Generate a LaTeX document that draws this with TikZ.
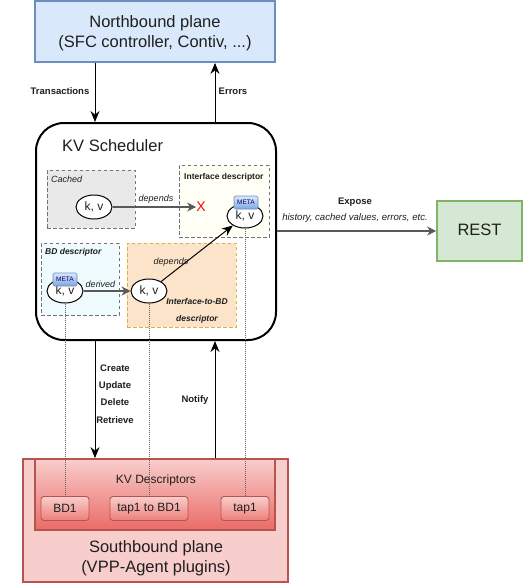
\documentclass[tikz,border=0pt]{standalone}
\usepackage{fontspec}
\setmainfont{Liberation Sans}
\usetikzlibrary{arrows.meta,calc,shapes.geometric}
\definecolor{redS}{HTML}{B85450}
\definecolor{redF}{HTML}{F8CECC}
\definecolor{redB}{HTML}{EA6B66}
\definecolor{blueS}{HTML}{6C8EBF}
\definecolor{blueF}{HTML}{DAE8FC}
\definecolor{blueB}{HTML}{7EA6E0}
\definecolor{greenS}{HTML}{82B366}
\definecolor{greenF}{HTML}{D5E8D4}
\definecolor{orangeF}{HTML}{FCE4CA}
\definecolor{orangeS}{HTML}{E3B040}
\definecolor{greyF}{HTML}{E9E9E9}
\definecolor{ivoryF}{HTML}{FFFFF6}
\definecolor{iceF}{HTML}{F0FBFF}
\newcommand{\low}[1]{\raisebox{-1.5pt}{#1}}
\tikzset{
 x=1pt,y=-1pt,
 every node/.style={font=\fontsize{16.5}{20}\selectfont,text=black!88,inner sep=0pt,align=center},
 plane/.style={draw=#1,line width=1.8pt},
 scope box/.style={draw=#1,dash pattern=on 3.5pt off 2.5pt,line width=.9pt},
 kv/.style={draw=black,fill=white,ellipse,line width=1pt,minimum width=36pt,minimum height=24pt,font=\fontsize{12}{14}\selectfont},
 meta/.style={draw=blueS,rounded corners=1.5pt,top color=blueF,bottom color=blueB,line width=.7pt,
   minimum width=24pt,minimum height=13pt,text=black!60!blue,font=\fontsize{6.5}{7}\selectfont},
 desc/.style={draw=redS,rounded corners=3pt,line width=.9pt,top color=redF,bottom color=redB!80!redF,minimum height=24pt,font=\fontsize{12}{14}\selectfont},
 flow/.style={-{Stealth[length=11pt,width=9pt]},line width=1pt,black},
 soft/.style={-{Stealth[length=9pt,width=9pt]},line width=1.2pt,black!65},
 dots/.style={dash pattern=on .7pt off 1.3pt,line width=.6pt,black!60},
 lab/.style={font=\fontsize{9.5}{17}\selectfont\bfseries},
 small/.style={font=\fontsize{9}{10}\selectfont\itshape},
 smallb/.style={font=\fontsize{8.5}{10}\selectfont\itshape\bfseries},
}
\begin{document}
\begin{tikzpicture}
\useasboundingbox[fill=white] (0,0) rectangle (524,584);
% planes
\node[plane=blueS,fill=blueF,minimum width=240pt,minimum height=61pt] (nb) at (155,31.5) {};
\node (nbt) at (155,33) {Northbound plane\\(SFC controller, Contiv, ...)};
\node[draw=black,line width=2pt,rounded corners=28pt,fill=white,minimum width=240pt,minimum height=217pt] (kvs) at (156,231.5) {};
\node[anchor=west] (kvt) at (62,146) {KV Scheduler};
\node[plane=redS,fill=redF,minimum width=265pt,minimum height=123pt] (sb) at (155.5,520.5) {};
\node (sbt) at (156,558.5) {Southbound plane\\(VPP-Agent plugins)};
\node[draw=redS,line width=1.8pt,top color=redF,bottom color=redB,minimum width=240pt,minimum height=71pt] (kvd) at (155,494.5) {};
\node[font=\fontsize{12}{14}\selectfont] (kvdt) at (156,480) {KV Descriptors};
\node[plane=greenS,fill=greenF,minimum width=85pt,minimum height=60pt] (rest) at (479.5,231) {};
\node (restt) at (479.5,230) {REST};
% descriptor areas
\node[scope box=black!55,fill=greyF,minimum width=88pt,minimum height=58pt] (cached) at (91,199) {};
\node[scope box=black!55,fill=ivoryF,minimum width=90pt,minimum height=72pt] (ifd) at (224,201) {};
\node[scope box=black!55,fill=iceF,minimum width=78pt,minimum height=72pt] (bdd) at (80,279) {};
\node[scope box=orangeS,fill=orangeF,minimum width=109pt,minimum height=84pt] (ibd) at (181.5,285) {};
\node[small,anchor=west] (cachedt) at (51,179) {Cached};
\node[smallb,anchor=west,font=\fontsize{8.5}{10}\selectfont\bfseries] (ift) at (184,177) {Interface descriptor};
\node[smallb,anchor=west] (bdt) at (45,252) {BD descriptor};
\node[small] (dep2) at (171,262) {depends};
\node[smallb,font=\fontsize{8.5}{17}\selectfont\itshape\bfseries] (ibdt) at (197,310.5) {Interface-to-BD\\descriptor};
% k,v
\node[kv] (k1) at (94,207) {\low{k, v}};
\node[kv] (k2) at (65,291) {\low{k, v}};
\node[kv] (k3) at (149,291) {\low{k, v}};
\node[kv] (k4) at (245,216) {\low{k, v}};
\node[meta] (m2) at (65,279.5) {META};
\node[meta] (m4) at (246,202.5) {META};
\node[text=red,font=\fontsize{14}{14}\selectfont] (x) at (201,207) {X};
% descriptor boxes
\node[desc,minimum width=48pt] (bd1) at (65,508.5) {\low{BD1}};
\node[desc,minimum width=78pt] (tb) at (149,508.5) {\low{tap1 to BD1}};
\node[desc,minimum width=48pt] (tap) at (245,508.5) {\low{tap1}};
% connectors
\draw[dots] (k2) -- (bd1);
\draw[dots] (k3) -- (tb);
\draw[dots] (k4) -- (tap);
\coordinate (cx) at (95,0);
\coordinate (ex) at (215,0);
\draw[flow] (nb.south -| cx) -- (kvs.north -| cx);
\draw[flow] (kvs.north -| ex) -- (nb.south -| ex);
\draw[flow] (kvs.south -| cx) -- (sb.north -| cx);
\draw[flow] (sb.north -| ex) -- (kvs.south -| ex);
\draw[soft] (kvs.east |- rest) -- (rest.west);
\draw[soft] (k1) -- (x.west);
\draw[soft] (k2) -- (k3);
\draw[flow] (k3) -- (k4);
% labels
\node[lab] (l1) at (60,91) {Transactions};
\node[lab] (l2) at (233,91) {Errors};
\node[lab,font=\fontsize{9.5}{17.2}\selectfont\bfseries] (l3) at (115,394) {Create\\Update\\Delete\\Retrieve};
\node[lab] (l4) at (195,400) {Notify};
\node[lab] (l5) at (355,202) {Expose};
\node[small,font=\fontsize{9.6}{10}\selectfont\itshape] (l6) at (355,218) {history, cached values, errors, etc.};
\node[small] (dep1) at (156,199) {depends};
\node[small] (der) at (100.5,284) {derived};
\end{tikzpicture}
\end{document}
